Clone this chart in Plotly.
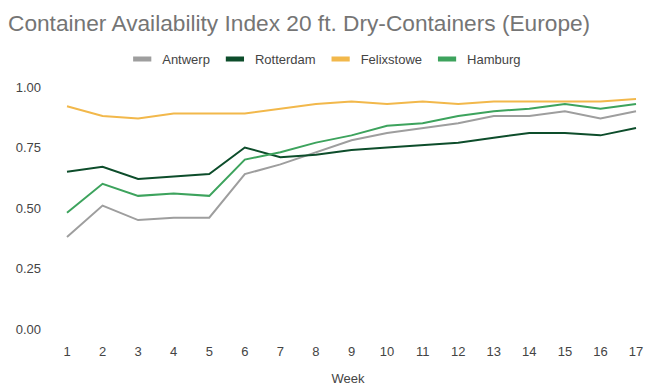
import plotly.graph_objects as go

weeks = list(range(1, 18))
antwerp = [0.38, 0.51, 0.45, 0.46, 0.46, 0.64, 0.68, 0.73, 0.78, 0.81, 0.83, 0.85, 0.88, 0.88, 0.90, 0.87, 0.90]
rotterdam = [0.65, 0.67, 0.62, 0.63, 0.64, 0.75, 0.71, 0.72, 0.74, 0.75, 0.76, 0.77, 0.79, 0.81, 0.81, 0.80, 0.83]
felixstowe = [0.92, 0.88, 0.87, 0.89, 0.89, 0.89, 0.91, 0.93, 0.94, 0.93, 0.94, 0.93, 0.94, 0.94, 0.94, 0.94, 0.95]
hamburg = [0.48, 0.60, 0.55, 0.56, 0.55, 0.70, 0.73, 0.77, 0.80, 0.84, 0.85, 0.88, 0.90, 0.91, 0.93, 0.91, 0.93]
y_ticks = [0, 0.25, 0.5, 0.75, 1.0]

series = [
    ("Antwerp", antwerp, "#9e9e9e"),
    ("Rotterdam", rotterdam, "#0d4d2b"),
    ("Felixstowe", felixstowe, "#f2b84b"),
    ("Hamburg", hamburg, "#3da35d"),
]

fig = go.Figure()
for name, vals, col in series:
    fig.add_trace(go.Scatter(x=weeks, y=vals, mode="lines", name=name,
                             line=dict(color=col, width=2), showlegend=False))
# legend entries with short thick line symbols
for name, vals, col in series:
    fig.add_trace(go.Scatter(x=[None], y=[None], mode="markers", name=name,
                             marker=dict(symbol="line-ew", size=13,
                                         line=dict(color=col, width=5))))

font = "Liberation Sans, Arial, sans-serif"
fig.update_layout(
    width=652, height=386,
    paper_bgcolor="white", plot_bgcolor="white",
    margin=dict(l=40, r=12, t=70, b=62, autoexpand=False),
    font=dict(family=font, size=13, color="#444444"),
    title=dict(text="Container Availability Index 20 ft. Dry-Containers (Europe)",
               x=0.0, xanchor="left", y=0.96, yanchor="middle",
               font=dict(size=22.7, color="#757575", family=font), automargin=False),
    legend=dict(orientation="h", x=0.485, xanchor="center", xref="container",
                y=0.868, yanchor="middle", yref="container",
                font=dict(size=13, color="#444444"), traceorder="normal",
                itemclick=False),
    showlegend=True,
)
fig.update_xaxes(tickvals=weeks, range=[0.466, 17.337], showgrid=False, zeroline=False,
                 showline=False, ticks="", ticklen=0, automargin=False,
                 ticklabelstandoff=10,
                 tickfont=dict(size=13, color="#444444"),
                 title=dict(text="Week", font=dict(size=13, color="#444444"), standoff=15))
fig.update_yaxes(tickvals=y_ticks, tickformat=".2f", range=[-0.0124, 1.037], showgrid=False,
                 zeroline=False, showline=False, ticks="", ticklen=0, automargin=False,
                 ticklabelstandoff=6,
                 tickfont=dict(size=13, color="#444444"))

fig.write_html("out.html")
